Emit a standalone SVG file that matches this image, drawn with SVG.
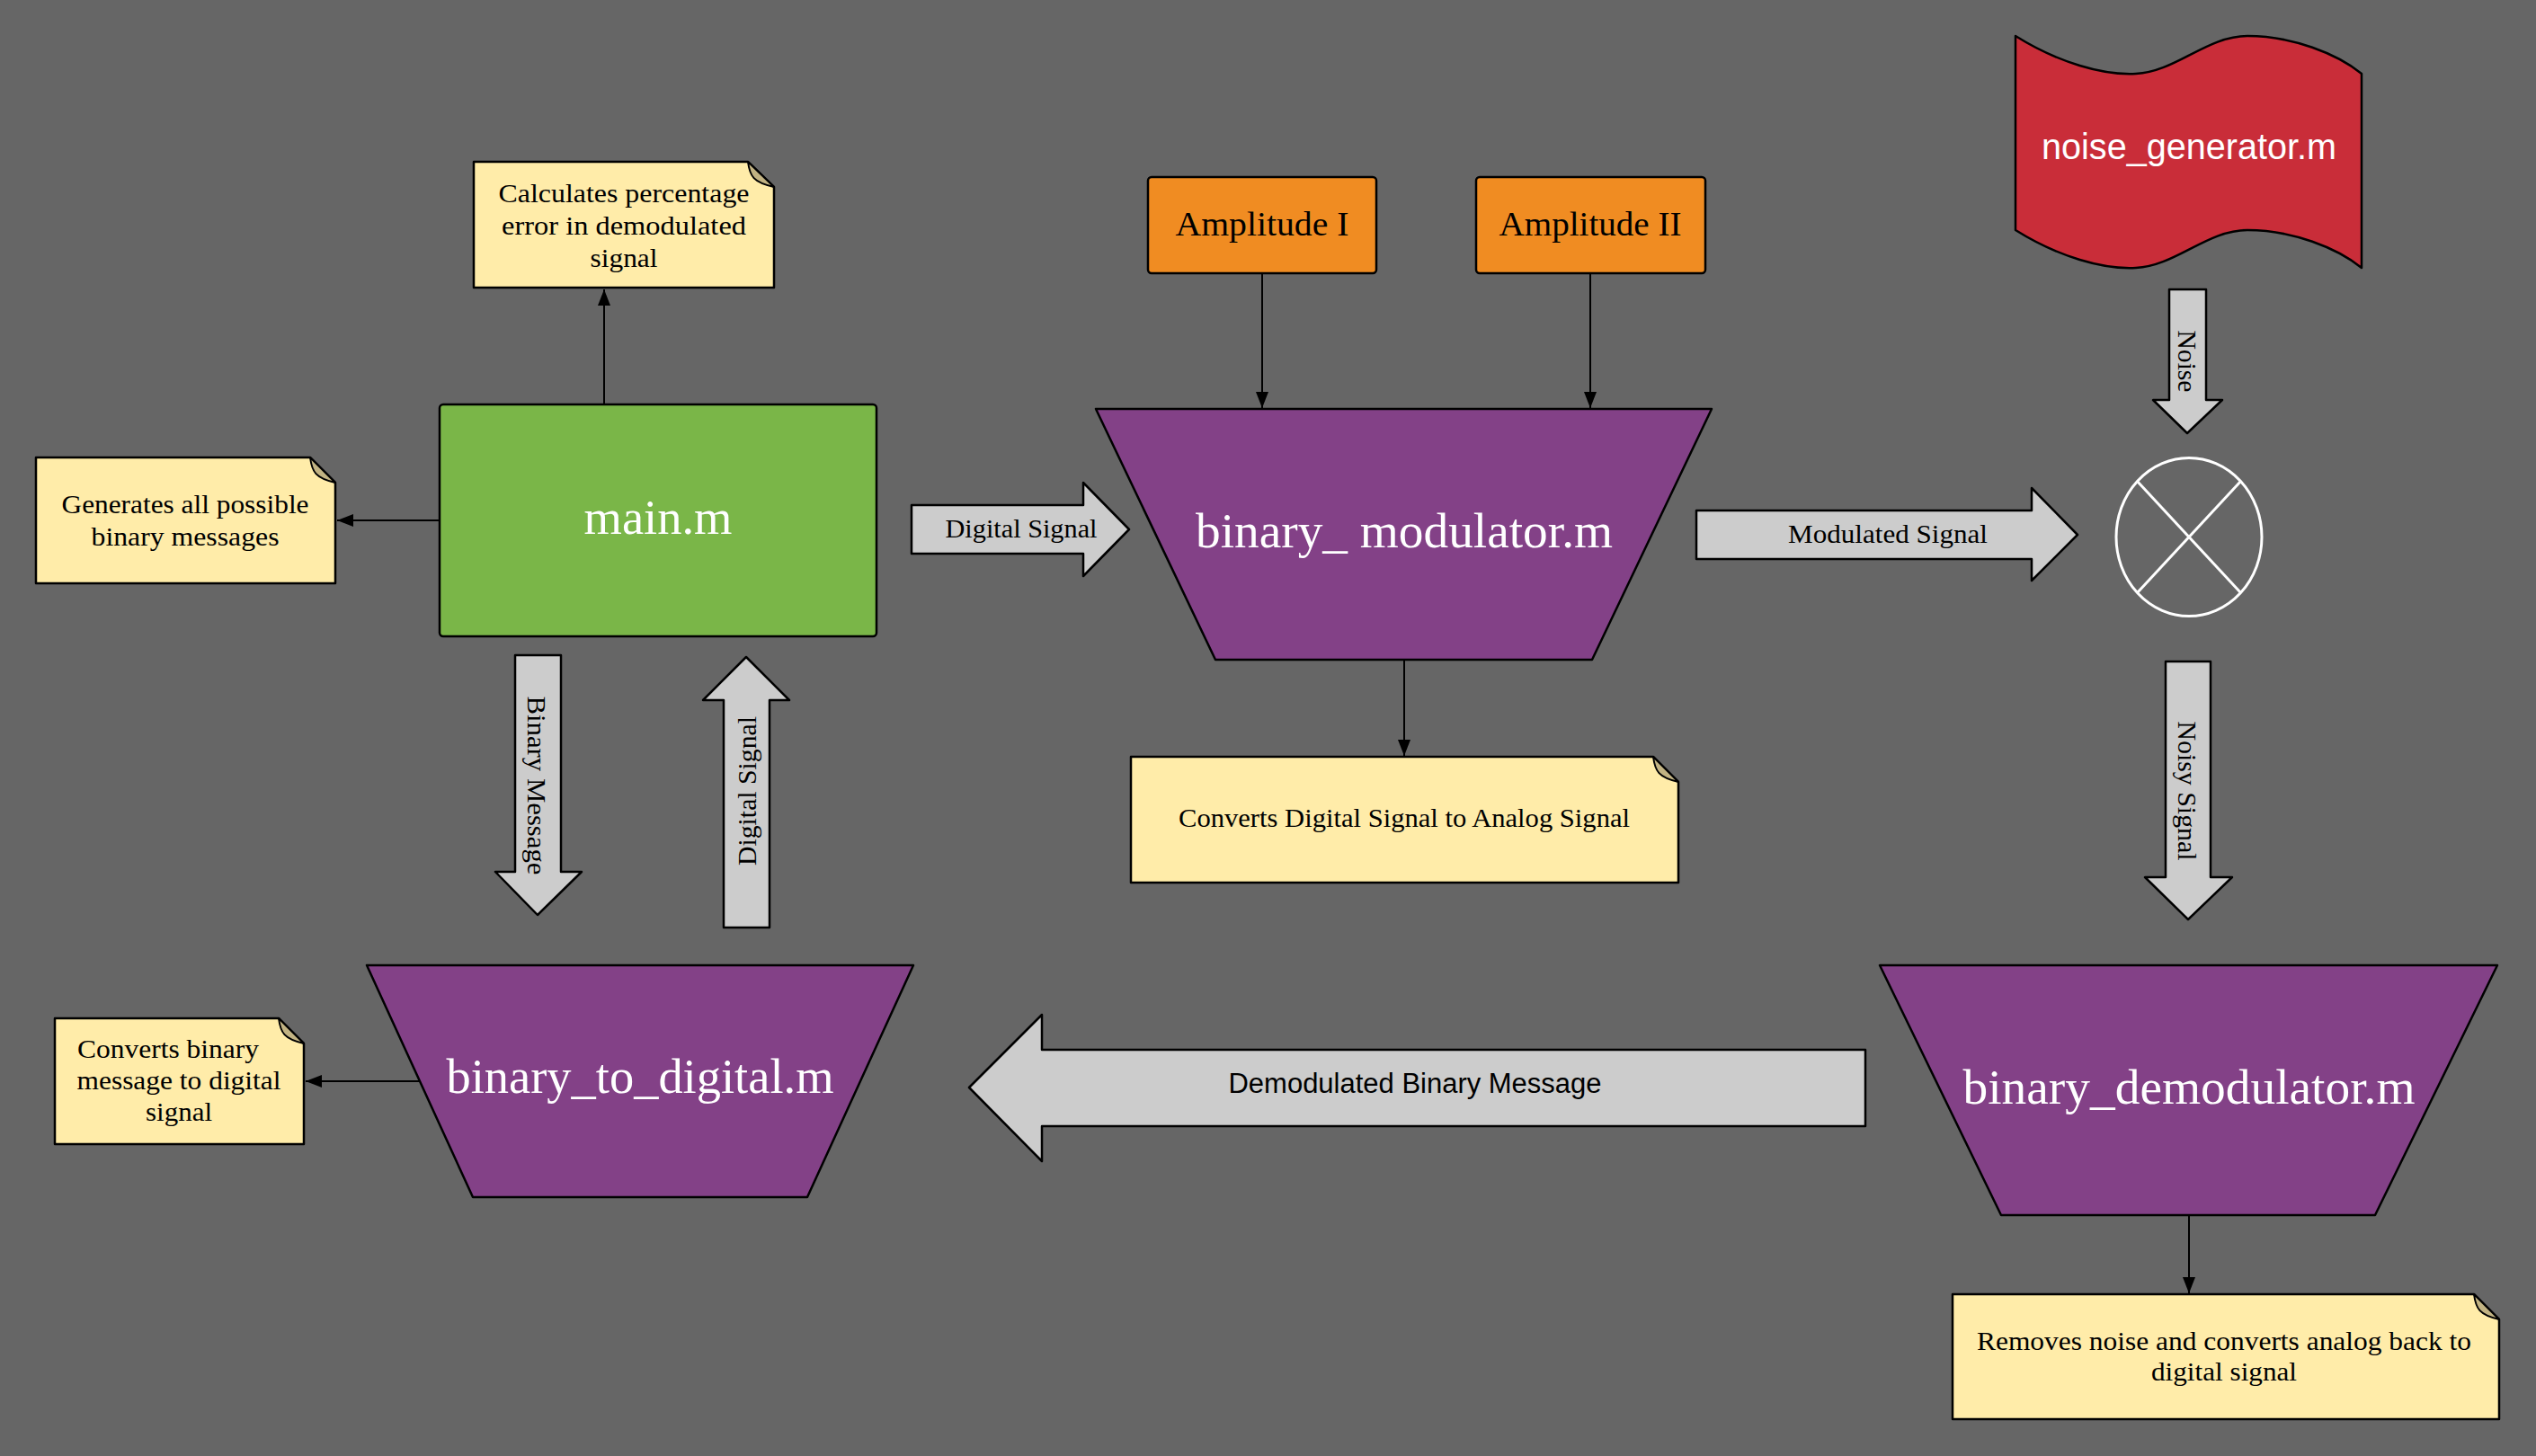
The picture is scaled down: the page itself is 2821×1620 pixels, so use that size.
<svg xmlns="http://www.w3.org/2000/svg" width="2821" height="1620" viewBox="0 0 2821 1620">
<defs>
<style>
.serif{font-family:"Liberation Serif","DejaVu Serif",serif;}
.sans{font-family:"Liberation Sans",Arial,sans-serif;}
.note{fill:#ffeca9;stroke:#000;stroke-width:2.5;stroke-linejoin:round;}
.fold{fill:#c2b383;stroke:#000;stroke-width:2;stroke-linejoin:round;}
.ntxt{font-size:30px;fill:#000;text-anchor:middle;}
.proc{fill:#834187;stroke:#000;stroke-width:2.5;stroke-linejoin:round;}
.big{font-size:54px;fill:#fff;text-anchor:middle;}
.amp{fill:#f08c22;stroke:#000;stroke-width:2.5;}
.blk{fill:#cccccc;stroke:#000;stroke-width:2.5;stroke-linejoin:round;}
.btxt{font-size:29px;fill:#000;text-anchor:middle;}
.line{fill:none;stroke:#000;stroke-width:2;}
</style>
<marker id="ah" markerUnits="userSpaceOnUse" markerWidth="20" markerHeight="14" refX="18" refY="7" orient="auto">
<path d="M0,0 L18,7 L0,14 Z" fill="#000"/>
</marker>
</defs>
<rect x="0" y="0" width="2821" height="1620" fill="#666666"/>

<g id="connectors">
<line class="line" x1="672" y1="450" x2="672" y2="322" marker-end="url(#ah)"/>
<line class="line" x1="489" y1="579" x2="375" y2="579" marker-end="url(#ah)"/>
<line class="line" x1="1404" y1="304" x2="1404" y2="454" marker-end="url(#ah)"/>
<line class="line" x1="1769" y1="304" x2="1769" y2="454" marker-end="url(#ah)"/>
<line class="line" x1="1562" y1="734" x2="1562" y2="841" marker-end="url(#ah)"/>
<line class="line" x1="467" y1="1203" x2="340" y2="1203" marker-end="url(#ah)"/>
<line class="line" x1="2435" y1="1352" x2="2435" y2="1439" marker-end="url(#ah)"/>

<g id="arrow-digital-signal-right">
<path class="blk" d="M1014,562 H1205 V537 L1256,589 L1205,641 V616 H1014 Z"/>
<text class="serif btxt" x="1136" y="598" textLength="169" lengthAdjust="spacingAndGlyphs">Digital Signal</text>
</g>
<g id="arrow-modulated-signal">
<path class="blk" d="M1887,568 H2260 V543 L2311,595 L2260,646 V622 H1887 Z"/>
<text class="serif btxt" x="2100" y="604" textLength="222" lengthAdjust="spacingAndGlyphs">Modulated Signal</text>
</g>
<g id="arrow-noise">
<path class="blk" d="M2413,322 H2454 V445 H2472 L2433,482 L2395,445 H2413 Z"/>
<text class="serif btxt" transform="translate(2433,402) rotate(90)" x="0" y="10" textLength="69" lengthAdjust="spacingAndGlyphs">Noise</text>
</g>
<g id="arrow-binary-message">
<path class="blk" d="M573,729 H624 V970 H647 L598,1018 L551,970 H573 Z"/>
<text class="serif btxt" transform="translate(597,874) rotate(90)" x="0" y="10" textLength="199" lengthAdjust="spacingAndGlyphs">Binary Message</text>
</g>
<g id="arrow-digital-signal-up">
<path class="blk" d="M805,1032 V779 H782 L830,731 L878,779 H856 V1032 Z"/>
<text class="serif btxt" transform="translate(831,880) rotate(-90)" x="0" y="10" textLength="166" lengthAdjust="spacingAndGlyphs">Digital Signal</text>
</g>
<g id="arrow-noisy-signal">
<path class="blk" d="M2409,736 H2459 V976 H2483 L2434,1023 L2386,976 H2409 Z"/>
<text class="serif btxt" transform="translate(2433,880) rotate(90)" x="0" y="10" textLength="155" lengthAdjust="spacingAndGlyphs">Noisy Signal</text>
</g>
<g id="arrow-demodulated">
<path class="blk" d="M2075,1168 H1159 V1129 L1078,1210 L1159,1292 V1253 H2075 Z"/>
<text class="sans" x="1574" y="1216" font-size="31" text-anchor="middle" textLength="415" lengthAdjust="spacingAndGlyphs">Demodulated Binary Message</text>
</g>
</g>

<g id="note-calc">
<path class="note" d="M527,180 H832 L861,208 V320 H527 Z"/>
<path class="fold" d="M832,180 C834,196 838,203 861,208 Z"/>
<text class="serif ntxt" x="694" y="225" textLength="279" lengthAdjust="spacingAndGlyphs">Calculates percentage</text>
<text class="serif ntxt" x="694" y="261" textLength="272" lengthAdjust="spacingAndGlyphs">error in demodulated</text>
<text class="serif ntxt" x="694" y="297" textLength="75" lengthAdjust="spacingAndGlyphs">signal</text>
</g>

<g id="note-generates">
<path class="note" d="M40,509 H345 L373,537 V649 H40 Z"/>
<path class="fold" d="M345,509 C347,525 351,532 373,537 Z"/>
<text class="serif ntxt" x="206" y="571" textLength="275" lengthAdjust="spacingAndGlyphs">Generates all possible</text>
<text class="serif ntxt" x="206" y="607" textLength="209" lengthAdjust="spacingAndGlyphs">binary messages</text>
</g>

<g id="main">
<rect x="489" y="450" width="486" height="258" rx="4" fill="#7ab648" stroke="#000" stroke-width="2.5"/>
<text class="serif big" x="732" y="594" textLength="165" lengthAdjust="spacingAndGlyphs">main.m</text>
</g>

<g id="amplitude-1">
<rect class="amp" x="1277" y="197" width="254" height="107" rx="4"/>
<text class="serif" x="1404" y="262" font-size="37" text-anchor="middle" textLength="193" lengthAdjust="spacingAndGlyphs">Amplitude I</text>
</g>

<g id="amplitude-2">
<rect class="amp" x="1642" y="197" width="255" height="107" rx="4"/>
<text class="serif" x="1769" y="262" font-size="37" text-anchor="middle" textLength="203" lengthAdjust="spacingAndGlyphs">Amplitude II</text>
</g>

<g id="binary-modulator">
<path class="proc" d="M1219,455 H1904 L1771,734 H1352 Z"/>
<text class="serif big" x="1562" y="609" textLength="464" lengthAdjust="spacingAndGlyphs">binary_ modulator.m</text>
</g>

<g id="noise-generator">
<path d="M2242,40 C2290,70 2340,84 2376,82 C2420,80 2455,40 2500,40 C2550,40 2600,60 2627,82 L2627,298 C2600,276 2550,256 2500,256 C2455,256 2420,296 2376,298 C2340,300 2290,286 2242,256 Z" fill="#c92d39" stroke="#000" stroke-width="2.5" stroke-linejoin="round"/>
<text class="sans" x="2435" y="177" font-size="41" fill="#fff" text-anchor="middle" textLength="328" lengthAdjust="spacingAndGlyphs">noise_generator.m</text>
</g>

<g id="mixer">
<ellipse cx="2435" cy="597.5" rx="81" ry="88" fill="none" stroke="#fff" stroke-width="3"/>
<line x1="2377.5" y1="535.5" x2="2492.5" y2="659.5" stroke="#fff" stroke-width="3"/>
<line x1="2492.5" y1="535.5" x2="2377.5" y2="659.5" stroke="#fff" stroke-width="3"/>
</g>

<g id="note-converts-da">
<path class="note" d="M1258,842 H1839 L1867,870 V982 H1258 Z"/>
<path class="fold" d="M1839,842 C1841,858 1845,865 1867,870 Z"/>
<text class="serif ntxt" x="1562" y="920" textLength="502" lengthAdjust="spacingAndGlyphs">Converts Digital Signal to Analog Signal</text>
</g>

<g id="binary-to-digital">
<path class="proc" d="M408,1074 H1016 L898,1332 H526 Z"/>
<text class="serif big" x="712" y="1216" textLength="431" lengthAdjust="spacingAndGlyphs">binary_to_digital.m</text>
</g>

<g id="note-converts-binary">
<path class="note" d="M61,1133 H310 L338,1161 V1273 H61 Z"/>
<path class="fold" d="M310,1133 C312,1149 316,1156 338,1161 Z"/>
<text class="serif ntxt" x="187" y="1177" textLength="202" lengthAdjust="spacingAndGlyphs">Converts binary</text>
<text class="serif ntxt" x="199" y="1212" textLength="227" lengthAdjust="spacingAndGlyphs">message to digital</text>
<text class="serif ntxt" x="199" y="1247" textLength="74" lengthAdjust="spacingAndGlyphs">signal</text>
</g>

<g id="binary-demodulator">
<path class="proc" d="M2091,1074 H2778 L2642,1352 H2226 Z"/>
<text class="serif big" x="2435" y="1228" textLength="503" lengthAdjust="spacingAndGlyphs">binary_demodulator.m</text>
</g>

<g id="note-removes">
<path class="note" d="M2172,1440 H2752 L2780,1468 V1579 H2172 Z"/>
<path class="fold" d="M2752,1440 C2754,1456 2758,1463 2780,1468 Z"/>
<text class="serif ntxt" x="2474" y="1502" textLength="550" lengthAdjust="spacingAndGlyphs">Removes noise and converts analog back to</text>
<text class="serif ntxt" x="2474" y="1536" textLength="162" lengthAdjust="spacingAndGlyphs">digital signal</text>
</g>
</svg>
